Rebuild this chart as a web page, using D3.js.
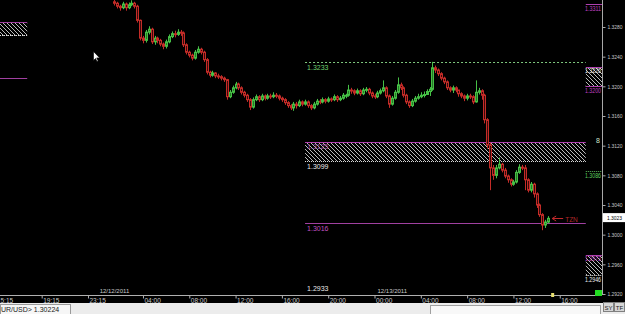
<!DOCTYPE html>
<html>
<head>
<meta charset="utf-8">
<script src="https://cdn.jsdelivr.net/npm/d3@7"></script>
<style>
  body { margin: 0; background: #000; overflow: hidden; }
  svg { display: block; }
  text { font-family: "Liberation Sans", Arial, sans-serif; }
</style>
</head>
<body>
<div class="svg-wrapper"></div>
<script>
// EURUSD M15, 12/12/2011 01:30 -> 12/13/2011 15:00
var barStart   = new Date(2011, 11, 12, 1, 30);
var barMinutes = 15;
var firstOpen  = 1.3314;

var closes = [
  1.3312, 1.3308, 1.3306, 1.3311, 1.3306, 1.3310, 1.3312, 1.3308, 1.3289, 1.3265,
  1.3262, 1.3273, 1.3277, 1.3260, 1.3265, 1.3262, 1.3257, 1.3254, 1.3260, 1.3267,
  1.3271, 1.3270, 1.3273, 1.3272, 1.3256, 1.3246, 1.3242, 1.3238, 1.3246, 1.3250,
  1.3246, 1.3236, 1.3219, 1.3215, 1.3218, 1.3214, 1.3213, 1.3211, 1.3209, 1.3186,
  1.3192, 1.3198, 1.3203, 1.3198, 1.3192, 1.3188, 1.3182, 1.3172, 1.3182, 1.3186,
  1.3182, 1.3187, 1.3184, 1.3187, 1.3186, 1.3188, 1.3187, 1.3184, 1.3182, 1.3178,
  1.3174, 1.3171, 1.3176, 1.3174, 1.3179, 1.3176, 1.3179, 1.3174, 1.3171, 1.3176,
  1.3180, 1.3179, 1.3182, 1.3180, 1.3183, 1.3182, 1.3186, 1.3182, 1.3184, 1.3188,
  1.3188, 1.3195, 1.3194, 1.3191, 1.3194, 1.3190, 1.3195, 1.3196, 1.3191, 1.3187,
  1.3186, 1.3191, 1.3194, 1.3198, 1.3187, 1.3176, 1.3184, 1.3192, 1.3202, 1.3198,
  1.3188, 1.3179, 1.3174, 1.3180, 1.3184, 1.3186, 1.3188, 1.3189, 1.3193, 1.3196,
  1.3225, 1.3222, 1.3217, 1.3211, 1.3206, 1.3198, 1.3195, 1.3198, 1.3195, 1.3190,
  1.3187, 1.3184, 1.3187, 1.3186, 1.3179, 1.3192, 1.3194, 1.3188, 1.3155, 1.3121,
  1.3090, 1.3080, 1.3090, 1.3095, 1.3087, 1.3079, 1.3074, 1.3068, 1.3071, 1.3084,
  1.3091, 1.3090, 1.3074, 1.3060, 1.3068, 1.3055, 1.3040, 1.3027, 1.3013, 1.3017,
  1.3022
];
var highs = [
  1.3318, 1.3314, 1.3310, 1.3314, 1.3313, 1.3313, 1.3316, 1.3314, 1.3310, 1.3290,
  1.3268, 1.3276, 1.3281, 1.3279, 1.3268, 1.3267, 1.3264, 1.3259, 1.3263, 1.3270,
  1.3274, 1.3275, 1.3277, 1.3276, 1.3274, 1.3258, 1.3248, 1.3244, 1.3249, 1.3254,
  1.3252, 1.3248, 1.3238, 1.3221, 1.3221, 1.3219, 1.3217, 1.3215, 1.3213, 1.3210,
  1.3195, 1.3201, 1.3206, 1.3205, 1.3200, 1.3194, 1.3190, 1.3184, 1.3185, 1.3189,
  1.3188, 1.3190, 1.3189, 1.3190, 1.3190, 1.3192, 1.3191, 1.3189, 1.3186, 1.3184,
  1.3180, 1.3176, 1.3179, 1.3179, 1.3182, 1.3181, 1.3182, 1.3181, 1.3176, 1.3179,
  1.3183, 1.3183, 1.3185, 1.3184, 1.3186, 1.3185, 1.3189, 1.3188, 1.3187, 1.3191,
  1.3190, 1.3202, 1.3198, 1.3196, 1.3197, 1.3196, 1.3198, 1.3199, 1.3198, 1.3193,
  1.3190, 1.3194, 1.3197, 1.3208, 1.3200, 1.3189, 1.3187, 1.3195, 1.3212, 1.3205,
  1.3200, 1.3190, 1.3181, 1.3183, 1.3187, 1.3190, 1.3192, 1.3193, 1.3196, 1.3199,
  1.3233, 1.3228, 1.3224, 1.3219, 1.3213, 1.3208, 1.3200, 1.3201, 1.3200, 1.3195,
  1.3192, 1.3189, 1.3190, 1.3190, 1.3188, 1.3208, 1.3198, 1.3196, 1.3190, 1.3157,
  1.3124, 1.3094, 1.3094, 1.3104, 1.3097, 1.3090, 1.3081, 1.3076, 1.3074, 1.3087,
  1.3095, 1.3094, 1.3094, 1.3076, 1.3071, 1.3070, 1.3057, 1.3042, 1.3029, 1.3020,
  1.3025
];
var lows = [
  1.3309, 1.3305, 1.3302, 1.3304, 1.3302, 1.3304, 1.3308, 1.3305, 1.3286, 1.3262,
  1.3258, 1.3259, 1.3270, 1.3257, 1.3256, 1.3258, 1.3254, 1.3250, 1.3251, 1.3258,
  1.3265, 1.3266, 1.3268, 1.3268, 1.3253, 1.3243, 1.3239, 1.3235, 1.3236, 1.3244,
  1.3243, 1.3233, 1.3216, 1.3212, 1.3213, 1.3211, 1.3210, 1.3208, 1.3206, 1.3182,
  1.3184, 1.3190, 1.3196, 1.3195, 1.3189, 1.3185, 1.3179, 1.3168, 1.3170, 1.3180,
  1.3179, 1.3180, 1.3181, 1.3182, 1.3183, 1.3184, 1.3184, 1.3181, 1.3179, 1.3175,
  1.3171, 1.3168, 1.3167, 1.3170, 1.3172, 1.3173, 1.3174, 1.3171, 1.3168, 1.3169,
  1.3174, 1.3176, 1.3177, 1.3177, 1.3178, 1.3179, 1.3180, 1.3179, 1.3180, 1.3182,
  1.3184, 1.3186, 1.3190, 1.3188, 1.3189, 1.3187, 1.3188, 1.3192, 1.3188, 1.3184,
  1.3183, 1.3184, 1.3189, 1.3192, 1.3184, 1.3171, 1.3174, 1.3182, 1.3190, 1.3195,
  1.3185, 1.3176, 1.3171, 1.3172, 1.3178, 1.3182, 1.3184, 1.3185, 1.3189, 1.3187,
  1.3194, 1.3218, 1.3214, 1.3208, 1.3203, 1.3195, 1.3192, 1.3191, 1.3192, 1.3186,
  1.3184, 1.3180, 1.3181, 1.3183, 1.3176, 1.3178, 1.3189, 1.3182, 1.3150, 1.3116,
  1.3060, 1.3074, 1.3076, 1.3088, 1.3084, 1.3076, 1.3070, 1.3065, 1.3066, 1.3069,
  1.3082, 1.3087, 1.3060, 1.3057, 1.3057, 1.3050, 1.3036, 1.3024, 1.3006, 1.3009,
  1.3015
];

var priceTicks = [1.3280, 1.3240, 1.3200, 1.3160, 1.3120, 1.3080, 1.3040, 1.3000, 1.2960, 1.2920];
var timeTicks = [
  new Date(2011, 11, 11, 15, 15), new Date(2011, 11, 11, 19, 15), new Date(2011, 11, 11, 23, 15),
  new Date(2011, 11, 12, 4, 0), new Date(2011, 11, 12, 8, 0), new Date(2011, 11, 12, 12, 0),
  new Date(2011, 11, 12, 16, 0), new Date(2011, 11, 12, 20, 0), new Date(2011, 11, 13, 0, 0),
  new Date(2011, 11, 13, 4, 0), new Date(2011, 11, 13, 8, 0), new Date(2011, 11, 13, 12, 0),
  new Date(2011, 11, 13, 16, 0)
];
var dayStarts = [new Date(2011, 11, 12), new Date(2011, 11, 13)];
var dayLabels = ["12/12/2011", "12/13/2011"];

// drawn levels
var levelStart   = new Date(2011, 11, 12, 18, 0);
var levelEnd     = new Date(2011, 11, 13, 18, 15);
var resistLevel  = 1.3233;
var zoneTop      = 1.3125;
var zoneBottom   = 1.3099;
var supportLevel = 1.3016;
var lowMark      = 1.2933;
var leftEnd      = new Date(2011, 11, 11, 18, 0);
var leftZone     = [1.3287, 1.3269];
var leftLine     = 1.3211;
var sideTop      = 1.3311;
var sideZoneA    = [1.3226, 1.3200];
var sideGreen    = 1.3086;
var sideZoneB    = [1.2973, 1.2946];
var bidPrice     = 1.3023;
var statusText   = "UR/USD>  1.30224";

var width = 625, height = 314,
    plotRight = 602, plotBottom = 295;

var svg = d3.select(".svg-wrapper").append("svg")
  .attr("width", width)
  .attr("height", height);

svg.append("rect").attr("width", width).attr("height", height).attr("fill", "#000");

var defs = svg.append("defs");
var hatch = defs.append("pattern")
  .attr("id", "hatch")
  .attr("patternUnits", "userSpaceOnUse")
  .attr("width", 4).attr("height", 4);
hatch.append("path")
  .attr("d", "M0,0L4,4M-1,3L1,5M3,-1L5,1")
  .attr("stroke", "#d0d0d0")
  .attr("stroke-width", 0.9);

var xScale = d3.scaleTime()
  .domain([new Date(2011, 11, 11, 15, 39), new Date(2011, 11, 13, 19, 39)])
  .range([0, plotRight]);
var yScale = d3.scaleLinear()
  .domain([1.2920, 1.3280])
  .range([294, 27]);

var plot = svg.append("g");
plot.append("clipPath").attr("id", "clip")
  .append("rect").attr("width", plotRight).attr("height", plotBottom);

var candles = closes.map(function(c, i) {
  return {
    time: d3.timeMinute.offset(barStart, i * barMinutes),
    open: i == 0 ? firstOpen : closes[i - 1],
    high: highs[i],
    low: lows[i],
    close: c
  };
});

function px(v) { return Math.round(v) + 0.5; }

// level zones and lines
var levels = plot.append("g").attr("clip-path", "url(#clip)");

function zone(x0, x1, top, bottom, edgeColor) {
  levels.append("rect")
    .attr("x", x0).attr("width", x1 - x0)
    .attr("y", px(yScale(top))).attr("height", yScale(bottom) - yScale(top))
    .attr("fill", "url(#hatch)");
  levels.append("line")
    .attr("x1", x0).attr("x2", x1)
    .attr("y1", px(yScale(top))).attr("y2", px(yScale(top)))
    .attr("stroke", edgeColor);
  levels.append("line")
    .attr("x1", x0).attr("x2", x1)
    .attr("y1", px(yScale(bottom))).attr("y2", px(yScale(bottom)))
    .attr("stroke", "#e0e0e0").attr("stroke-dasharray", "1,1");
}

function hline(x0, x1, price, color, dash) {
  levels.append("line")
    .attr("x1", x0).attr("x2", x1)
    .attr("y1", px(yScale(price))).attr("y2", px(yScale(price)))
    .attr("stroke", color)
    .attr("stroke-dasharray", dash || null);
}

function label(x, y, txt, color, size, anchor) {
  return svg.append("text")
    .attr("x", x).attr("y", y)
    .attr("fill", color)
    .attr("font-size", size)
    .attr("text-anchor", anchor || "start")
    .text(txt);
}

var lx0 = xScale(levelStart), lx1 = xScale(levelEnd);

zone(0, xScale(leftEnd), leftZone[0], leftZone[1], "#a040a0");
hline(0, xScale(leftEnd), leftLine, "#a040a0");

hline(lx0, lx1, resistLevel, "#7ec87e", "2,2");
zone(lx0, lx1, zoneTop, zoneBottom, "#b040b0");
hline(lx0, lx1, supportLevel, "#a040a0");

// right side level tags
hline(lx1, plotRight, sideTop, "#b040b0");
zone(lx1, plotRight, sideZoneA[0], sideZoneA[1], "#b040b0");
hline(lx1, plotRight, sideZoneA[1], "#b040b0");
hline(lx1, plotRight, sideGreen, "#5fbf5f", "1,1");
zone(lx1, plotRight, sideZoneB[0], sideZoneB[1], "#b040b0");

var fmt = d3.format(".4f");
label(lx0 + 2, yScale(resistLevel) + 8, fmt(resistLevel), "#6fcf6f", "7px");
label(lx0 + 2, yScale(zoneTop) + 7, fmt(zoneTop), "#a050a0", "7px");
label(lx0 + 2, yScale(zoneBottom) + 8, fmt(zoneBottom), "#e8e8e8", "7px");
label(lx0 + 2, yScale(supportLevel) + 8, fmt(supportLevel), "#c050c0", "7px");
label(lx0 + 2, yScale(lowMark) + 7, fmt(lowMark), "#e8e8e8", "7px");

function sideLabel(price, dy, color) {
  label(plotRight - 1, yScale(price) + dy, fmt(price), color, "6.5px", "end")
    .attr("textLength", 16).attr("lengthAdjust", "spacingAndGlyphs");
}
sideLabel(sideTop, 7, "#c040c0");
sideLabel(sideZoneA[0], 6, "#f0f0f0");
sideLabel(sideZoneA[1], 7, "#c040c0");
sideLabel(sideGreen, 7, "#5fcf5f");
sideLabel(sideZoneB[0], 6, "#c040c0");
sideLabel(sideZoneB[1], 7, "#f0f0f0");
label(plotRight - 2, yScale(zoneTop) + 1, "8", "#cfe8cf", "7px", "end");

// candles
var g_candle = plot.append("g")
  .attr("clip-path", "url(#clip)")
  .selectAll(".candle")
  .data(candles)
  .enter().append("g")
  .attr("class", "candle");

g_candle.append("line")
  .attr("x1", function(d) { return px(xScale(d.time)); })
  .attr("x2", function(d) { return px(xScale(d.time)); })
  .attr("y1", function(d) { return yScale(d.high); })
  .attr("y2", function(d) { return yScale(d.low); })
  .attr("stroke", function(d) { return d.close >= d.open ? "#46c046" : "#c42c28"; });

g_candle.append("rect")
  .attr("x", function(d) { return Math.round(xScale(d.time)) - 0.5; })
  .attr("width", 2)
  .attr("y", function(d) { return yScale(Math.max(d.open, d.close)); })
  .attr("height", function(d) {
    return Math.max(1, yScale(Math.min(d.open, d.close)) - yScale(Math.max(d.open, d.close)));
  })
  .attr("fill", function(d) { return d.close >= d.open ? "#267a26" : "#3a0a0a"; })
  .attr("stroke", function(d) { return d.close >= d.open ? "#46c046" : "#c42c28"; })
  .attr("stroke-width", 1);

// arrow + tag at the last bar
var last = candles[candles.length - 1];
var ax = xScale(last.time) + 4, ay = px(yScale(last.close));
svg.append("path")
  .attr("d", "M" + ax + "," + ay + "l4,-2.5M" + ax + "," + ay + "l4,2.5M" + ax + "," + ay + "h11")
  .attr("stroke", "#c0282a").attr("fill", "none");
label(ax + 13, ay + 3, "TZN", "#b02828", "6.5px");

// mouse cursor
svg.append("path")
  .attr("d", "M93.5,51.5v9l2,-2l1.5,3l1.2,-0.6l-1.5,-3h3z")
  .attr("fill", "#fff").attr("stroke", "#000").attr("stroke-width", 0.6);

// price axis
var yAxis = d3.axisRight(yScale)
  .tickValues(priceTicks)
  .tickSize(3)
  .tickSizeOuter(0)
  .tickPadding(2)
  .tickFormat(fmt);

var g_yAxis = svg.append("g")
  .attr("class", "axis axis--y")
  .attr("transform", "translate(" + (plotRight + 0.5) + ",0)")
  .call(yAxis);
g_yAxis.select(".domain").attr("d", "M0,0V" + plotBottom).attr("stroke", "#a8a8a8");
g_yAxis.selectAll(".tick line").attr("stroke", "#a8a8a8");
g_yAxis.selectAll(".tick text")
  .attr("fill", "#c8c8c8")
  .attr("font-size", "5.5px")
  .attr("font-family", null)
  .attr("textLength", 15)
  .attr("lengthAdjust", "spacingAndGlyphs");

// bid tag
svg.append("rect")
  .attr("x", plotRight + 1).attr("y", yScale(bidPrice) - 4.5)
  .attr("width", 22).attr("height", 9)
  .attr("fill", "#fff");
label(plotRight + 5, yScale(bidPrice) + 2.5, fmt(bidPrice), "#000", "5.5px")
  .attr("textLength", 15).attr("lengthAdjust", "spacingAndGlyphs");

// time axis
var xAxis = d3.axisBottom(xScale)
  .tickValues(timeTicks)
  .tickSize(3)
  .tickSizeOuter(0)
  .tickPadding(0)
  .tickFormat(d3.timeFormat("%H:%M"));

var g_xAxis = svg.append("g")
  .attr("class", "axis axis--x")
  .attr("transform", "translate(0," + (plotBottom + 0.5) + ")")
  .call(xAxis);
g_xAxis.select(".domain").attr("d", "M0,0H" + plotRight).attr("stroke", "#b0b0b0");
g_xAxis.selectAll(".tick line").attr("stroke", "#b0b0b0");
g_xAxis.selectAll(".tick text")
  .attr("text-anchor", "start")
  .attr("x", 1)
  .attr("y", 3)
  .attr("fill", "#c8c8c8")
  .attr("font-size", "6.5px")
  .attr("font-family", null);

dayStarts.forEach(function(d, i) {
  label(xScale(d) + 3, plotBottom - 2, dayLabels[i], "#c8c8c8", "6px");
});

// markers on axis
svg.append("rect").attr("x", xScale(last.time) + 3).attr("y", plotBottom - 2)
  .attr("width", 3).attr("height", 4).attr("fill", "#e8e070");
svg.append("rect").attr("x", plotRight - 7).attr("y", plotBottom - 5)
  .attr("width", 7).attr("height", 6).attr("fill", "#22dd22");

// status bar
svg.append("rect").attr("x", 0).attr("y", 303).attr("width", width).attr("height", 11).attr("fill", "#ececec");
svg.append("rect").attr("x", 0.5).attr("y", 304.5).attr("width", 70).attr("height", 10)
  .attr("fill", "#f6f6f6").attr("stroke", "#9a9a9a");
label(1, 312, statusText, "#202020", "7px");
svg.append("rect").attr("x", 430.5).attr("y", 305.5).attr("width", 170).attr("height", 9)
  .attr("fill", "#f8f8f8").attr("stroke", "#a0a0a0");

["SY", "TF"].forEach(function(t, i) {
  svg.append("rect").attr("x", plotRight + 1.5 + i * 11).attr("y", 302.5)
    .attr("width", 10).attr("height", 9).attr("fill", "#d6d6d6").attr("stroke", "#808080");
  label(plotRight + 6.5 + i * 11, 309.5, t, "#202020", "6px", "middle");
});
</script>
</body>
</html>
